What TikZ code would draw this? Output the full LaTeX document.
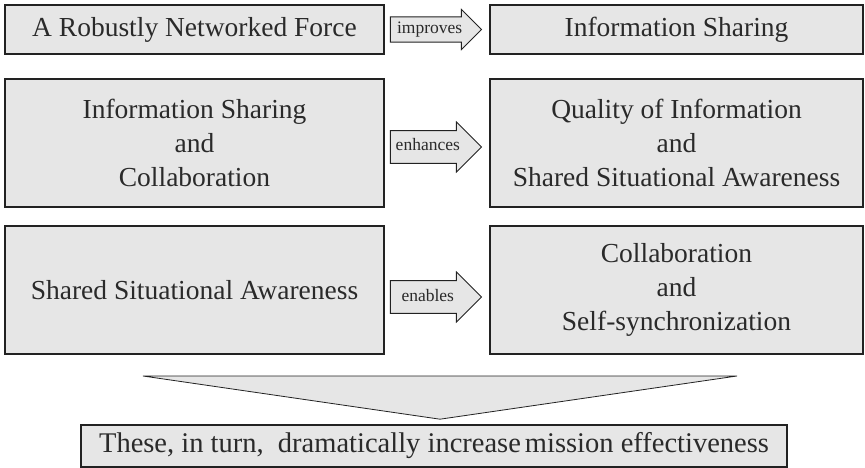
\documentclass[tikz,border=0pt]{standalone}
\usepackage{fontspec}
\setmainfont{Liberation Serif}
\usetikzlibrary{shapes.arrows,calc}
\definecolor{boxgray}{HTML}{E6E6E6}
\definecolor{edgegray}{HTML}{222222}
\definecolor{ink}{HTML}{2A2A2A}
\tikzset{
  block/.style={draw=edgegray,line width=1.6pt,fill=boxgray,text=ink,align=center,
    inner sep=0pt,font=\fontsize{27.5}{34}\selectfont},
  leftblock/.style={block,minimum width=379pt},
  rightblock/.style={block,minimum width=373pt},
  verb/.style={single arrow,draw=edgegray,line width=1pt,fill=boxgray,text=ink,
    anchor=tip,minimum width=40pt,minimum height=91pt,single arrow head indent=0pt,
    inner xsep=1pt,inner ysep=5pt,text height=12pt,text depth=4pt,
    font=\fontsize{17.5}{20}\selectfont}
}
\begin{document}
\begin{tikzpicture}[x=1pt,y=-1pt]
\useasboundingbox (0,0) rectangle (865,468);
 \node[leftblock,minimum height=49pt] (netforce) at (194.5,29.5) {A Robustly Networked Force};
 \node[rightblock,minimum height=49pt] (sharing) at (676.5,29.5) {Information Sharing};
 \node[leftblock,minimum height=128pt] (sharecollab) at (194.5,143) {Information Sharing\\and\\Collaboration};
 \node[rightblock,minimum height=128pt] (quality) at (676.5,143) {Quality of Information\\and\\Shared Situational Awareness};
 \node[leftblock,minimum height=128pt] (awareness) at (194.5,290) {Shared Situational Awareness};
 \node[rightblock,minimum height=128pt] (selfsync) at (676.5,290) {Collaboration\\and\\Self-synchronization};
 \node[verb,inner ysep=4pt,minimum width=40pt] (improves) at ($(sharing.west)+(-7,0)$) {improves};
 \node[verb,minimum width=50pt] (enhances) at ($(quality.west)+(-7,4)$) {enhances};
 \node[verb,minimum width=50pt] (enables) at ($(selfsync.west)+(-7,7)$) {enables};
 \node[block,minimum width=706pt,minimum height=42pt,font=\fontsize{28.5}{34}\selectfont] (effect) at (434,446)
   {These, in turn,~ dramatically increase\hspace{4pt}mission effectiveness};
 \coordinate (apex) at ($(effect.north)+(6,-5)$);
 \filldraw[fill=boxgray,draw=edgegray,line width=0.8pt] (143,376) -- (737,376) -- (apex) -- cycle;
\end{tikzpicture}
\end{document}
